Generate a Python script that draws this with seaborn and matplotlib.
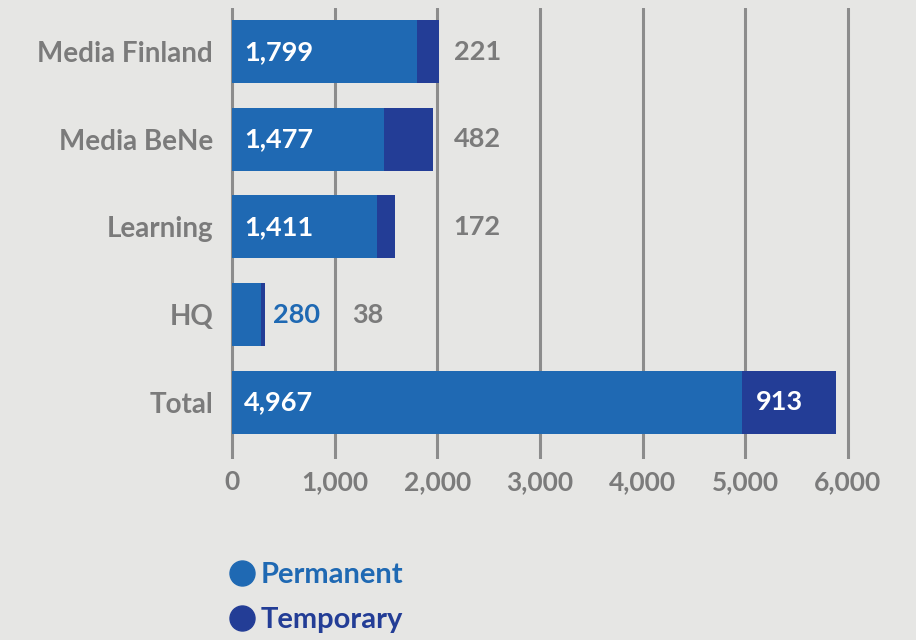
import matplotlib
matplotlib.use("Agg")
import matplotlib.pyplot as plt
import seaborn as sns
import pandas as pd
from matplotlib.lines import Line2D

categories = ["Media Finland", "Media BeNe", "Learning", "HQ", "Total"]
permanent = [1799, 1477, 1411, 280, 4967]
temporary = [221, 482, 172, 38, 913]
xticks = [0, 1000, 2000, 3000, 4000, 5000, 6000]
xtick_labels = ["0", "1,000", "2,000", "3,000", "4,000", "5,000", "6,000"]

BG = "#e6e6e4"
C_PERM = "#1f69b3"
C_TEMP = "#233d96"
GRAY = "#7b7b7b"
GRID = "#8c8c8c"

sns.set_theme(style="white")
plt.rcParams["font.family"] = ["Lato", "DejaVu Sans"]

df = pd.DataFrame({"cat": categories, "perm": permanent, "temp": temporary})
df["total"] = df["perm"] + df["temp"]

fig = plt.figure(figsize=(9.16, 6.4), dpi=100, facecolor=BG)
ax = fig.add_axes([0.2477, 0.2828, 0.9313 - 0.2477, 0.9875 - 0.2828])
ax.set_facecolor(BG)

for x in xticks:
    ax.axvline(x, color=GRID, lw=2.2, zorder=0)

sns.barplot(data=df, y="cat", x="total", color=C_TEMP, orient="h", width=0.72,
            saturation=1, linewidth=0, ax=ax, zorder=2)
sns.barplot(data=df, y="cat", x="perm", color=C_PERM, orient="h", width=0.72,
            saturation=1, linewidth=0, ax=ax, zorder=3)

ax.set_xlim(-50, 6050)
ax.set_ylim(4.65, -0.5)
for s in ax.spines.values():
    s.set_visible(False)
ax.set_xlabel("")
ax.set_ylabel("")
ax.set_xticks(xticks)
ax.set_xticklabels(xtick_labels)
ax.tick_params(axis="x", length=0, pad=8, labelsize=19, labelcolor=GRAY)
ax.tick_params(axis="y", length=0, pad=10, labelsize=20, labelcolor=GRAY)
for lab in ax.get_xticklabels() + ax.get_yticklabels():
    lab.set_fontweight("bold")

FS = 19.5
for i, (p, t) in enumerate(zip(permanent, temporary)):
    if i == 3:
        ax.text(400, i, f"{p:,}", color=C_PERM, fontsize=FS, fontweight="bold",
                va="center", ha="left", zorder=5)
        ax.text(1170, i, f"{t:,}", color=GRAY, fontsize=FS, fontweight="bold",
                va="center", ha="left", zorder=5)
    elif i == 4:
        ax.text(120, i, f"{p:,}", color="white", fontsize=FS, fontweight="bold",
                va="center", ha="left", zorder=5)
        ax.text(p + 140, i, f"{t:,}", color="white", fontsize=FS, fontweight="bold",
                va="center", ha="left", zorder=5)
    else:
        ax.text(120, i, f"{p:,}", color="white", fontsize=FS, fontweight="bold",
                va="center", ha="left", zorder=5)
        ax.text(2160, i, f"{t:,}", color=GRAY, fontsize=FS, fontweight="bold",
                va="center", ha="left", zorder=5)

handles = [
    Line2D([], [], marker="o", ls="", markersize=18, markerfacecolor=C_PERM,
           markeredgecolor=C_PERM, label="Permanent"),
    Line2D([], [], marker="o", ls="", markersize=18, markerfacecolor=C_TEMP,
           markeredgecolor=C_TEMP, label="Temporary"),
]
leg = fig.legend(handles=handles, loc="upper left", bbox_to_anchor=(0.253, 0.122),
                 frameon=False, handlelength=0.7, handletextpad=0.3,
                 labelspacing=0.65, borderpad=0, borderaxespad=0,
                 prop={"size": 21, "weight": "bold"},
                 labelcolor=[C_PERM, C_TEMP])

fig.savefig("out.png", dpi=100, facecolor=BG)
